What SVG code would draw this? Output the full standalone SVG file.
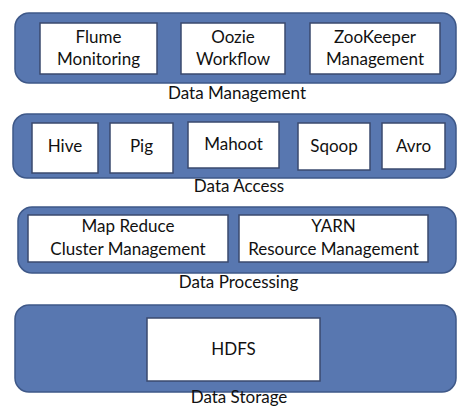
<svg xmlns="http://www.w3.org/2000/svg" width="457" height="408" viewBox="0 0 457 408">
<style>
.band{fill:#5877b0;stroke:#3e5888;stroke-width:1.5}
.box{fill:#ffffff;stroke:#3a4a6e;stroke-width:1.5}
text{font-family:Lato,"Open Sans",sans-serif;font-size:17px;fill:#111;text-anchor:middle}
</style>
<rect width="457" height="408" fill="#ffffff"/>
<g id="data-management">
<rect class="band" x="15" y="13" width="441" height="70" rx="14"/>
<text x="237" y="99">Data Management</text>
</g>
<g id="flume"><rect class="box" x="40" y="23" width="117" height="51"/><text x="98.5" y="43">Flume</text><text x="98.5" y="65">Monitoring</text></g>
<g id="oozie"><rect class="box" x="181" y="23" width="104" height="51"/><text x="233" y="43">Oozie</text><text x="233" y="65">Workflow</text></g>
<g id="zookeeper"><rect class="box" x="310" y="23" width="130" height="51"/><text x="375" y="43">ZooKeeper</text><text x="375" y="65">Management</text></g>

<g id="data-access">
<rect class="band" x="13" y="114" width="443" height="64" rx="14"/>
<text x="239" y="192">Data Access</text>
</g>
<g id="hive"><rect class="box" x="32" y="123" width="66" height="50"/><text x="65" y="152">Hive</text></g>
<g id="pig"><rect class="box" x="110" y="123" width="63" height="50"/><text x="141.5" y="152">Pig</text></g>
<g id="mahoot"><rect class="box" x="188" y="122" width="91" height="46"/><text x="233.5" y="150">Mahoot</text></g>
<g id="sqoop"><rect class="box" x="298" y="123" width="72" height="47"/><text x="334" y="152">Sqoop</text></g>
<g id="avro"><rect class="box" x="382" y="123" width="63" height="46"/><text x="413.5" y="152">Avro</text></g>

<g id="data-processing">
<rect class="band" x="18" y="207" width="438" height="66" rx="14"/>
<text x="238.5" y="288">Data Processing</text>
</g>
<g id="mapreduce"><rect class="box" x="28" y="215" width="200" height="47"/><text x="128" y="232">Map Reduce</text><text x="128" y="255">Cluster Management</text></g>
<g id="yarn"><rect class="box" x="239" y="215" width="189" height="47"/><text x="333.5" y="232">YARN</text><text x="333.5" y="255">Resource Management</text></g>

<g id="data-storage">
<rect class="band" x="15" y="305" width="441" height="87" rx="14"/>
<text x="239" y="403">Data Storage</text>
</g>
<g id="hdfs"><rect class="box" x="147" y="318" width="173" height="63"/><text x="233.5" y="355">HDFS</text></g>
<g id="connectors"></g>
</svg>
